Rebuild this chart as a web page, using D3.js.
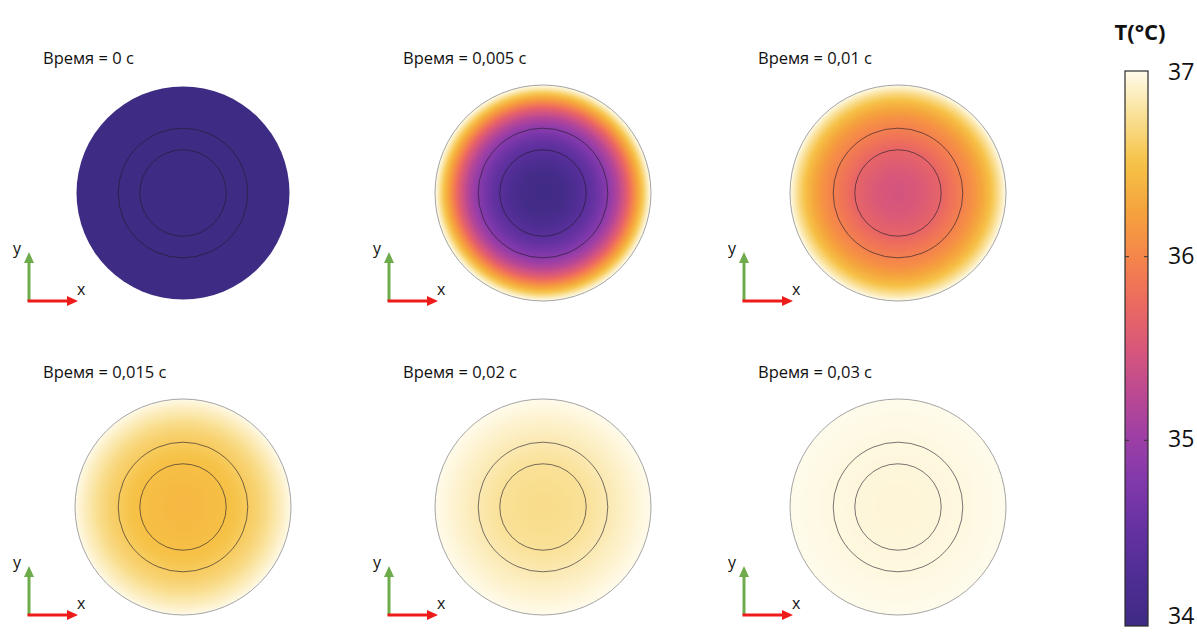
<!DOCTYPE html>
<html>
<head>
<meta charset="utf-8">
<script src="https://cdn.jsdelivr.net/npm/d3@7"></script>
<style>
  html, body { margin: 0; padding: 0; background: #fff; }
  svg { display: block; }
  text { font-family: "Open Sans", "Noto Sans", sans-serif; fill: #111; }
</style>
</head>
<body>
<svg id="chart" width="1197" height="632"></svg>
<script>
// Snapshot times, seconds (decimal comma as in the labels)
const times = ["0", "0,005", "0,01", "0,015", "0,02", "0,03"];

// Normalised radius r/R at which the temperature profiles are sampled
const radii = [0, 0.2, 0.4, 0.5, 0.6, 0.7, 0.78, 0.85, 0.92, 0.97, 1];

// Radial temperature profiles, °C, one per snapshot
const tempT0    = [34.00, 34.00, 34.00, 34.00, 34.00, 34.00, 34.00, 34.00, 34.00, 34.00, 34.00];
const tempT005  = [34.03, 34.10, 34.38, 34.58, 34.85, 35.22, 35.62, 36.08, 36.52, 36.86, 37.00];
const tempT010  = [35.45, 35.52, 35.68, 35.82, 35.95, 36.10, 36.28, 36.46, 36.70, 36.89, 37.00];
const tempT015  = [36.42, 36.44, 36.48, 36.52, 36.58, 36.65, 36.73, 36.81, 36.89, 36.95, 37.00];
const tempT020  = [36.73, 36.74, 36.77, 36.80, 36.84, 36.88, 36.91, 36.94, 36.97, 36.99, 37.00];
const tempT030  = [36.95, 36.95, 36.96, 36.97, 36.97, 36.98, 36.99, 36.99, 37.00, 37.00, 37.00];
const profiles = [tempT0, tempT005, tempT010, tempT015, tempT020, tempT030];

// Boundaries between the concentric layers, as fractions of the outer radius
const layerRadii = [0.4, 0.6];

// Colour bar
const colorbarTicks = [34, 35, 36, 37];
const colorbarTitle = "T(°C)";
const cmapValues = [34, 34.25, 34.5, 34.75, 35, 35.25, 35.5, 35.75, 36, 36.25, 36.5, 36.75, 37];
const cmapColors = ["#3e2b83", "#4e2d93", "#6331a1", "#7e38aa", "#9b3ea7", "#bb4893", "#d8577a",
                    "#ec6a5f", "#f5864a", "#f5a33c", "#f6c246", "#f9df92", "#fffbea"];

const color = d3.scaleLinear().domain(cmapValues).range(cmapColors)
  .interpolate(d3.interpolateRgb).clamp(true);

const svg = d3.select("#chart");
const defs = svg.append("defs");

// Panel grid
const colX = [183, 543, 898];
const rowY = [193, 507];
const R = 108;

profiles.forEach((prof, i) => {
  const cx = colX[i % 3], cy = rowY[Math.floor(i / 3)];
  const tOfR = d3.scaleLinear().domain(radii).range(prof);

  const grad = defs.append("radialGradient")
    .attr("id", "field" + i)
    .attr("cx", "50%").attr("cy", "50%").attr("r", "50%");
  d3.range(0, 1.0001, 0.025).forEach(f => {
    grad.append("stop")
      .attr("offset", (f * 100) + "%")
      .attr("stop-color", color(tOfR(f)));
  });

  const g = svg.append("g").attr("transform", `translate(${cx},${cy})`);

  g.append("circle")
    .attr("r", i === 0 ? R - 1.5 : R)
    .attr("fill", `url(#field${i})`)
    .attr("stroke", i === 0 ? "none" : "#a4a4a4")
    .attr("stroke-width", 1);

  g.selectAll("circle.layer").data(layerRadii).enter().append("circle")
    .attr("class", "layer")
    .attr("r", d => d * R)
    .attr("fill", "none")
    .attr("stroke", "#1e1a2a")
    .attr("stroke-opacity", 0.75)
    .attr("stroke-width", 0.8);

  // Title
  svg.append("text")
    .attr("x", cx - 140).attr("y", cy - 129)
    .attr("font-size", 16.5)
    .text(`Время = ${times[i]} с`);

  // Coordinate triad
  const ox = cx - 154, oy = cy + 108;
  const tri = svg.append("g").attr("transform", `translate(${ox},${oy})`);
  tri.append("line").attr("x1", 0).attr("y1", 0).attr("x2", 0).attr("y2", -39)
    .attr("stroke", "#6eab4b").attr("stroke-width", 3);
  tri.append("path").attr("d", "M-5,-38 L5,-38 L0,-49 Z").attr("fill", "#6eab4b");
  tri.append("line").attr("x1", -1.5).attr("y1", 0).attr("x2", 39).attr("y2", 0)
    .attr("stroke", "#ee1b1b").attr("stroke-width", 3);
  tri.append("path").attr("d", "M38,-5 L38,5 L49,0 Z").attr("fill", "#ee1b1b");
  tri.append("text").attr("x", -16).attr("y", -47).attr("font-size", 16).text("y");
  tri.append("text").attr("x", 48).attr("y", -6).attr("font-size", 16).text("x");
});

// Colour bar
const cbX = 1125, cbW = 23, cbTop = 71, cbBottom = 626;
const yScale = d3.scaleLinear().domain([34, 37]).range([624, 73]);

const cbGrad = defs.append("linearGradient")
  .attr("id", "cbGrad").attr("x1", 0).attr("y1", 1).attr("x2", 0).attr("y2", 0);
d3.range(0, 1.0001, 0.02).forEach(f => {
  cbGrad.append("stop").attr("offset", (f * 100) + "%")
    .attr("stop-color", color(34 + 3 * f));
});
svg.append("rect")
  .attr("x", cbX).attr("y", cbTop).attr("width", cbW).attr("height", cbBottom - cbTop)
  .attr("fill", "url(#cbGrad)")
  .attr("stroke", "#2b2b2b").attr("stroke-width", 1.2);

const cbTicks = svg.append("g");
cbTicks.selectAll("g").data(colorbarTicks.filter(t => t > 34 && t < 37)).enter().append("g")
  .each(function (d) {
    const y = yScale(d);
    d3.select(this).append("line").attr("x1", cbX).attr("x2", cbX + 4).attr("y1", y).attr("y2", y)
      .attr("stroke", "#333").attr("stroke-width", 1);
    d3.select(this).append("line").attr("x1", cbX + cbW - 4).attr("x2", cbX + cbW).attr("y1", y).attr("y2", y)
      .attr("stroke", "#333").attr("stroke-width", 1);
  });

svg.append("g").selectAll("text").data(colorbarTicks).enter().append("text")
  .attr("x", 1168).attr("y", d => Math.min(yScale(d) + 7, 624))
  .attr("font-size", 23)
  .text(d => d);

svg.append("text")
  .attr("x", 1140).attr("y", 40)
  .attr("text-anchor", "middle")
  .attr("font-size", 22).attr("font-weight", "bold")
  .text(colorbarTitle);
</script>
</body>
</html>
